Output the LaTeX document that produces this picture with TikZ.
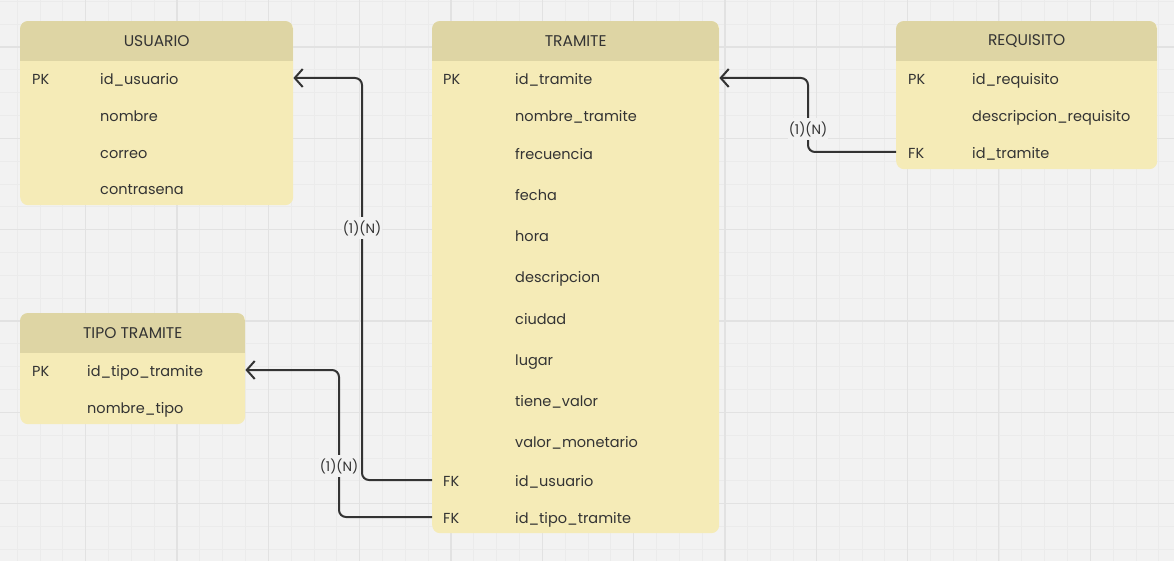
\documentclass[tikz,border=0pt]{standalone}
\usepackage{fontspec}
\setmainfont{Poppins}
\usetikzlibrary{arrows.meta}
\definecolor{bg}{HTML}{F2F2F2}
\definecolor{gmin}{HTML}{EBEBEB}
\definecolor{gmaj}{HTML}{E2E2E2}
\definecolor{bodyc}{HTML}{F5EBB7}
\definecolor{headc}{HTML}{DED5A4}
\definecolor{ink}{HTML}{333333}
\begin{document}
\begin{tikzpicture}[x=1pt,y=-1pt,
 tbl/.style={fill=bodyc, rounded corners=8pt, anchor=north west, inner sep=0pt},
 hdr/.style={fill=headc, anchor=north west, inner sep=0pt, minimum height=40pt, text=ink, font=\fontsize{15.5}{17}\selectfont},
 fld/.style={anchor=west, inner sep=0pt, text height=13pt, text depth=0pt, text=ink, font=\fontsize{14.5}{16}\selectfont},
 conn/.style={draw=ink, line width=2pt, rounded corners=7pt, -{Straight Barb[length=8pt,width=18pt]}},
 card/.style={fill=bg, text=ink, inner xsep=1pt, inner ysep=3pt, font=\fontsize{13.5}{15}\selectfont}
]
\useasboundingbox[fill=bg] (0,0) rectangle (1174,561);
% grid
\foreach \i in {0,...,52} {\pgfmathsetmacro\gx{-5.6+22.83*\i}
  \draw[gmin, line width=0.8pt] (\gx,0) -- (\gx,561);}
\foreach \i in {0,...,24} {\pgfmathsetmacro\gy{1.34+22.83*\i}
  \draw[gmin, line width=0.8pt] (0,\gy) -- (1174,\gy);}
\foreach \i in {0,...,13} {\pgfmathsetmacro\gx{-5.6+91.32*\i}
  \draw[gmaj, line width=1.1pt] (\gx,0) -- (\gx,561);}
\foreach \i in {0,...,5} {\pgfmathsetmacro\gy{47+91.32*\i}
  \draw[gmaj, line width=1.1pt] (0,\gy) -- (1174,\gy);}

% USUARIO
\node[tbl, minimum width=273pt, minimum height=184pt] (usuario) at (20,21) {};
\begin{scope}
\clip[rounded corners=8pt] (20,21) rectangle (293,205);
\node[hdr, minimum width=273pt] (usuario-h) at (20,21) {USUARIO};
\end{scope}
\node[fld] (u1k) at (32,78) {PK};
\node[fld] (u1) at (100,78) {id\_usuario};
\node[fld] (u2) at (100,115) {nombre};
\node[fld] (u3) at (100,152) {correo};
\node[fld] (u4) at (100,188) {contrasena};

% TRAMITE
\node[tbl, minimum width=287pt, minimum height=512pt] (tramite) at (432,21) {};
\begin{scope}
\clip[rounded corners=8pt] (432,21) rectangle (719,533);
\node[hdr, minimum width=287pt] (tramite-h) at (432,21) {TRAMITE};
\end{scope}
\node[fld] (tr1k) at (443,78) {PK};
\node[fld] (tr1) at (515,78) {id\_tramite};
\node[fld] (tr2) at (515,115) {nombre\_tramite};
\node[fld] (tr3) at (515,153) {frecuencia};
\node[fld] (tr4) at (515,194) {fecha};
\node[fld] (tr5) at (515,235) {hora};
\node[fld] (tr6) at (515,276) {descripcion};
\node[fld] (tr7) at (515,318) {ciudad};
\node[fld] (tr8) at (515,359) {lugar};
\node[fld] (tr9) at (515,400) {tiene\_valor};
\node[fld] (tr10) at (515,441) {valor\_monetario};
\node[fld] (tr11k) at (443,480) {FK};
\node[fld] (tr11) at (515,480) {id\_usuario};
\node[fld] (tr12k) at (443,517) {FK};
\node[fld] (tr12) at (515,517) {id\_tipo\_tramite};

% REQUISITO
\node[tbl, minimum width=261pt, minimum height=148pt] (requisito) at (896,21) {};
\begin{scope}
\clip[rounded corners=8pt] (896,21) rectangle (1157,169);
\node[hdr, minimum width=261pt] (requisito-h) at (896,21) {REQUISITO};
\end{scope}
\node[fld] (rq1k) at (908,78) {PK};
\node[fld] (rq1) at (972,78) {id\_requisito};
\node[fld] (rq2) at (972,115) {descripcion\_requisito};
\node[fld] (rq3k) at (908,152) {FK};
\node[fld] (rq3) at (972,152) {id\_tramite};

% TIPO TRAMITE
\node[tbl, minimum width=225pt, minimum height=111pt] (tipo) at (20,313) {};
\begin{scope}
\clip[rounded corners=8pt] (20,313) rectangle (245,424);
\node[hdr, minimum width=225pt] (tipo-h) at (20,313) {TIPO TRAMITE};
\end{scope}
\node[fld] (tp1k) at (32,370) {PK};
\node[fld] (tp1) at (87,370) {id\_tipo\_tramite};
\node[fld] (tp2) at (87,407) {nombre\_tipo};

% connectors
\draw[conn] (tramite.west |- tr11) -- ++(-70,0) |- (usuario.east |- u1);
\draw[conn] (tramite.west |- tr12) -- ++(-93,0) |- (tipo.east |- tp1);
\draw[conn] (requisito.west |- rq3) -- ++(-88,0) |- (tramite.east |- tr1);

\node[card] (c1) at (362,228) {(1)(N)};
\node[card] (c2) at (339,466) {(1)(N)};
\node[card] (c3) at (808,129) {(1)(N)};
\end{tikzpicture}
\end{document}
